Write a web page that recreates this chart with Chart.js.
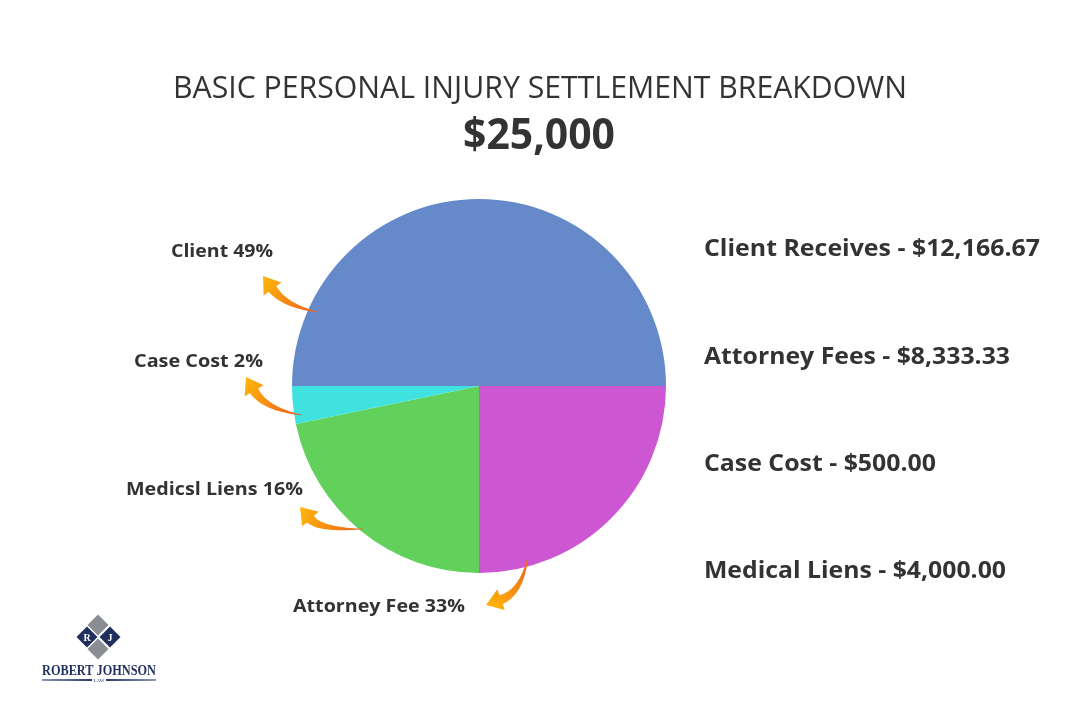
<!DOCTYPE html>
<html>
<head>
<meta charset="utf-8">
<script src="https://cdn.jsdelivr.net/npm/chart.js@4.4.1/dist/chart.umd.min.js"></script>
<style>
  html, body { margin: 0; padding: 0; background: #fff; }
  #wrap { position: relative; width: 1080px; height: 720px; }
</style>
</head>
<body>
<div id="wrap"><canvas id="pie" width="1080" height="720"></canvas></div>
<script>
// slice order clockwise starting from 9 o'clock
const sliceLabels = ['Client', 'Attorney Fee', 'Medical Liens', 'Case Cost'];
const sliceShares = [50, 25, 21.75, 3.25];   // share of the circle as drawn
const sliceColors = ['#6689c9', '#cd57d2', '#61d15c', '#40e2e0'];

// right-hand legend
const legendText = ['Client Receives - $12,166.67', 'Attorney Fees - $8,333.33', 'Case Cost - $500.00', 'Medical Liens - $4,000.00'];

// callouts next to the pie
const calloutText = ['Client 49%', 'Case Cost 2%', 'Medicsl Liens 16%', 'Attorney Fee 33%'];

const TEXT = '#333333';
const NAVY = '#1f2f5e';

// draw text squeezed/stretched to a given width
function fitText(ctx, str, x, y, w, font, color, align) {
    ctx.save();
    ctx.font = font;
    ctx.fillStyle = color;
    ctx.textBaseline = 'alphabetic';
    const m = ctx.measureText(str).width;
    const sx = w / m;
    let left = x;
    if (align === 'center') left = x - w / 2;
    ctx.translate(left, y);
    ctx.scale(sx, 1);
    ctx.textAlign = 'left';
    ctx.fillText(str, 0, 0);
    ctx.restore();
}

// curved tapering arrow: tail t, control c, tip h
function arrow(ctx, t, c, h) {
    const dx = h[0] - c[0], dy = h[1] - c[1];
    const len = Math.hypot(dx, dy);
    const ux = dx / len, uy = dy / len;
    const headL = 16, headW = 11;
    const bx = h[0] - ux * headL, by = h[1] - uy * headL;
    // body along quadratic t -> c -> base
    const pts = [];
    const N = 24;
    for (let i = 0; i <= N; i++) {
        const a = i / N;
        const x = (1 - a) * (1 - a) * t[0] + 2 * (1 - a) * a * c[0] + a * a * bx;
        const y = (1 - a) * (1 - a) * t[1] + 2 * (1 - a) * a * c[1] + a * a * by;
        pts.push([x, y, 0.3 + a * 4.5]);
    }
    const left = [], right = [];
    for (let i = 0; i < pts.length; i++) {
        const p = pts[i];
        const n = pts[Math.min(i + 1, pts.length - 1)], pr = pts[Math.max(i - 1, 0)];
        let tx = n[0] - pr[0], ty = n[1] - pr[1];
        const tl = Math.hypot(tx, ty) || 1;
        tx /= tl; ty /= tl;
        left.push([p[0] - ty * p[2], p[1] + tx * p[2]]);
        right.push([p[0] + ty * p[2], p[1] - tx * p[2]]);
    }
    const g = ctx.createLinearGradient(t[0], t[1], h[0], h[1]);
    g.addColorStop(0, '#ec5f1a');
    g.addColorStop(1, '#ffb60a');
    ctx.save();
    ctx.fillStyle = g;
    ctx.beginPath();
    left.forEach((p, i) => i ? ctx.lineTo(p[0], p[1]) : ctx.moveTo(p[0], p[1]));
    ctx.lineTo(bx - uy * headW, by + ux * headW);
    ctx.lineTo(h[0], h[1]);
    ctx.lineTo(bx + uy * headW, by - ux * headW);
    for (let i = right.length - 1; i >= 0; i--) ctx.lineTo(right[i][0], right[i][1]);
    ctx.closePath();
    ctx.fill();
    ctx.restore();
}

function diamond(ctx, cx, cy, r, color) {
    ctx.fillStyle = color;
    ctx.beginPath();
    ctx.moveTo(cx, cy - r);
    ctx.lineTo(cx + r, cy);
    ctx.lineTo(cx, cy + r);
    ctx.lineTo(cx - r, cy);
    ctx.closePath();
    ctx.fill();
}

const decor = {
    id: 'decor',
    afterDraw(chart) {
        const ctx = chart.ctx;
        // titles
        fitText(ctx, 'BASIC PERSONAL INJURY SETTLEMENT BREAKDOWN', 540, 98, 734, '31px "Open Sans"', TEXT, 'center');
        fitText(ctx, '$25,000', 539, 149, 152, 'bold 43px "Open Sans"', TEXT, 'center');

        // legend on the right
        const legY = [256, 364, 471, 578];
        const legW = [336, 306, 232, 302];
        legendText.forEach((s, i) => fitText(ctx, s, 704, legY[i], legW[i], 'bold 24px "Open Sans"', TEXT));

        // callouts
        const cx = [171, 134, 126, 293];
        const cy = [257, 367, 495, 612];
        const cw = [102, 129, 177, 172];
        calloutText.forEach((s, i) => fitText(ctx, s, cx[i], cy[i], cw[i], 'bold 18px "Open Sans"', TEXT));

        arrow(ctx, [318, 312], [285, 306], [263, 276]);
        arrow(ctx, [302, 415], [265, 409], [246, 377]);
        arrow(ctx, [363, 529], [320, 530], [300, 507]);
        arrow(ctx, [528, 556], [522, 592], [486, 605]);

        // logo
        ctx.save();
        diamond(ctx, 98, 625, 10.5, '#8a8d93');
        diamond(ctx, 87, 637, 10.5, NAVY);
        diamond(ctx, 110, 637, 10.5, NAVY);
        diamond(ctx, 98, 649, 10.5, '#8a8d93');
        ctx.fillStyle = '#fff';
        ctx.font = 'bold 10px "Liberation Serif"';
        ctx.textAlign = 'center';
        ctx.textBaseline = 'middle';
        ctx.fillText('R', 87, 638);
        ctx.fillText('J', 110, 638);
        ctx.restore();
        fitText(ctx, 'ROBERT JOHNSON', 99, 675, 114, 'bold 15px "Liberation Serif"', NAVY, 'center');
        ctx.save();
        const lg = ctx.createLinearGradient(42, 0, 156, 0);
        lg.addColorStop(0, '#8d96b3');
        lg.addColorStop(0.5, NAVY);
        lg.addColorStop(1, '#8d96b3');
        ctx.fillStyle = lg;
        ctx.fillRect(42, 679, 50, 2);
        ctx.fillRect(106, 679, 50, 2);
        ctx.fillStyle = NAVY;
        ctx.font = '5px "Liberation Serif"';
        ctx.textAlign = 'center';
        ctx.fillText('LAW', 99, 682);
        ctx.restore();
    }
};

new Chart(document.getElementById('pie'), {
    type: 'pie',
    data: {
        labels: sliceLabels,
        datasets: [{
            data: sliceShares,
            backgroundColor: sliceColors,
            borderWidth: 0
        }]
    },
    options: {
        responsive: false,
        animation: false,
        rotation: -90,
        layout: { padding: { left: 292, right: 414, top: 199, bottom: 147 } },
        plugins: {
            legend: { display: false },
            tooltip: { enabled: false }
        }
    },
    plugins: [decor]
});
</script>
</body>
</html>
